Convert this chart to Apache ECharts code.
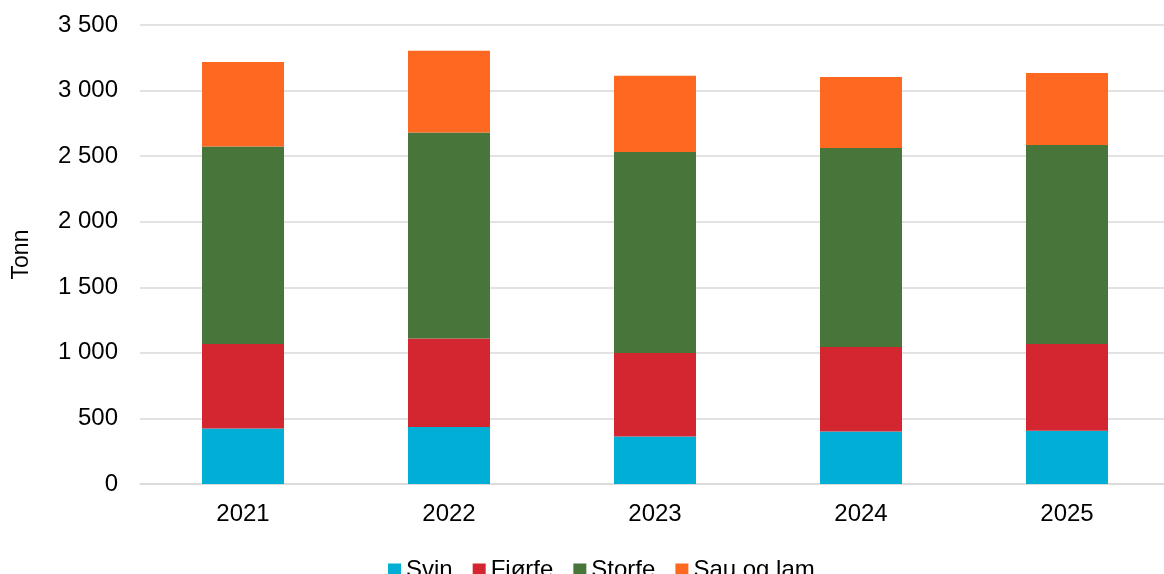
<!DOCTYPE html>
<html>
<head>
<meta charset="utf-8">
<script src="https://cdn.jsdelivr.net/npm/echarts@6/dist/echarts.min.js"></script>
<style>
html,body{margin:0;padding:0;background:#fff;overflow:hidden;width:1164px;height:574px;}
#chart{width:1180px;height:574px;}
</style>
</head>
<body>
<div id="chart"></div>
<script>
const years = ['2021', '2022', '2023', '2024', '2025'];
const svin = [424, 435, 363, 401, 406];
const fjorfe = [644, 675, 636, 644, 662];
const storfe = [1506, 1571, 1533, 1517, 1517];
const sauOgLam = [644, 623, 581, 542, 549];
const yTicks = [0, 500, 1000, 1500, 2000, 2500, 3000, 3500];

const font = 'Liberation Sans, Arial, sans-serif';
const chart = echarts.init(document.getElementById('chart'), null, {renderer: 'canvas'});

function fmt(v) {
  return String(v).replace(/\B(?=(\d{3})+(?!\d))/g, ' ');
}

function mk(name, data, color) {
  return {
    name: name, type: 'bar', stack: 'total', data: data, barWidth: 82,
    itemStyle: {color: color}
  };
}

chart.setOption({
  animation: false,
  backgroundColor: '#fff',
  textStyle: {fontFamily: font},
  grid: {left: 140, top: 25, width: 1030, height: 459, containLabel: false},
  legend: {
    left: 383, top: 553, itemWidth: 13, itemHeight: 13, itemGap: 20,
    icon: 'rect',
    textStyle: {fontSize: 24, color: '#000', fontFamily: font, padding: [0, 0, 0, 0]},
    data: ['Svin', 'Fjørfe', 'Storfe', 'Sau og lam']
  },
  xAxis: {
    type: 'category', data: years,
    axisLine: {lineStyle: {color: '#d9d9d9', width: 1.5}},
    axisTick: {show: false},
    axisLabel: {fontSize: 24, color: '#000', margin: 18, fontFamily: font}
  },
  yAxis: {
    type: 'value', min: yTicks[0], max: yTicks[yTicks.length - 1], interval: 500,
    name: 'Tonn', nameLocation: 'middle', nameGap: 107, nameRotate: 90,
    nameTextStyle: {fontSize: 23, color: '#000', fontFamily: font},
    axisLine: {show: false}, axisTick: {show: false},
    splitLine: {lineStyle: {color: '#d9d9d9', width: 1.5}},
    axisLabel: {fontSize: 24, color: '#000', margin: 22, fontFamily: font, formatter: fmt}
  },
  series: [
    mk('Svin', svin, '#00AED6'),
    mk('Fjørfe', fjorfe, '#D42630'),
    mk('Storfe', storfe, '#48763A'),
    mk('Sau og lam', sauOgLam, '#FF6820')
  ]
});
</script>
</body>
</html>
